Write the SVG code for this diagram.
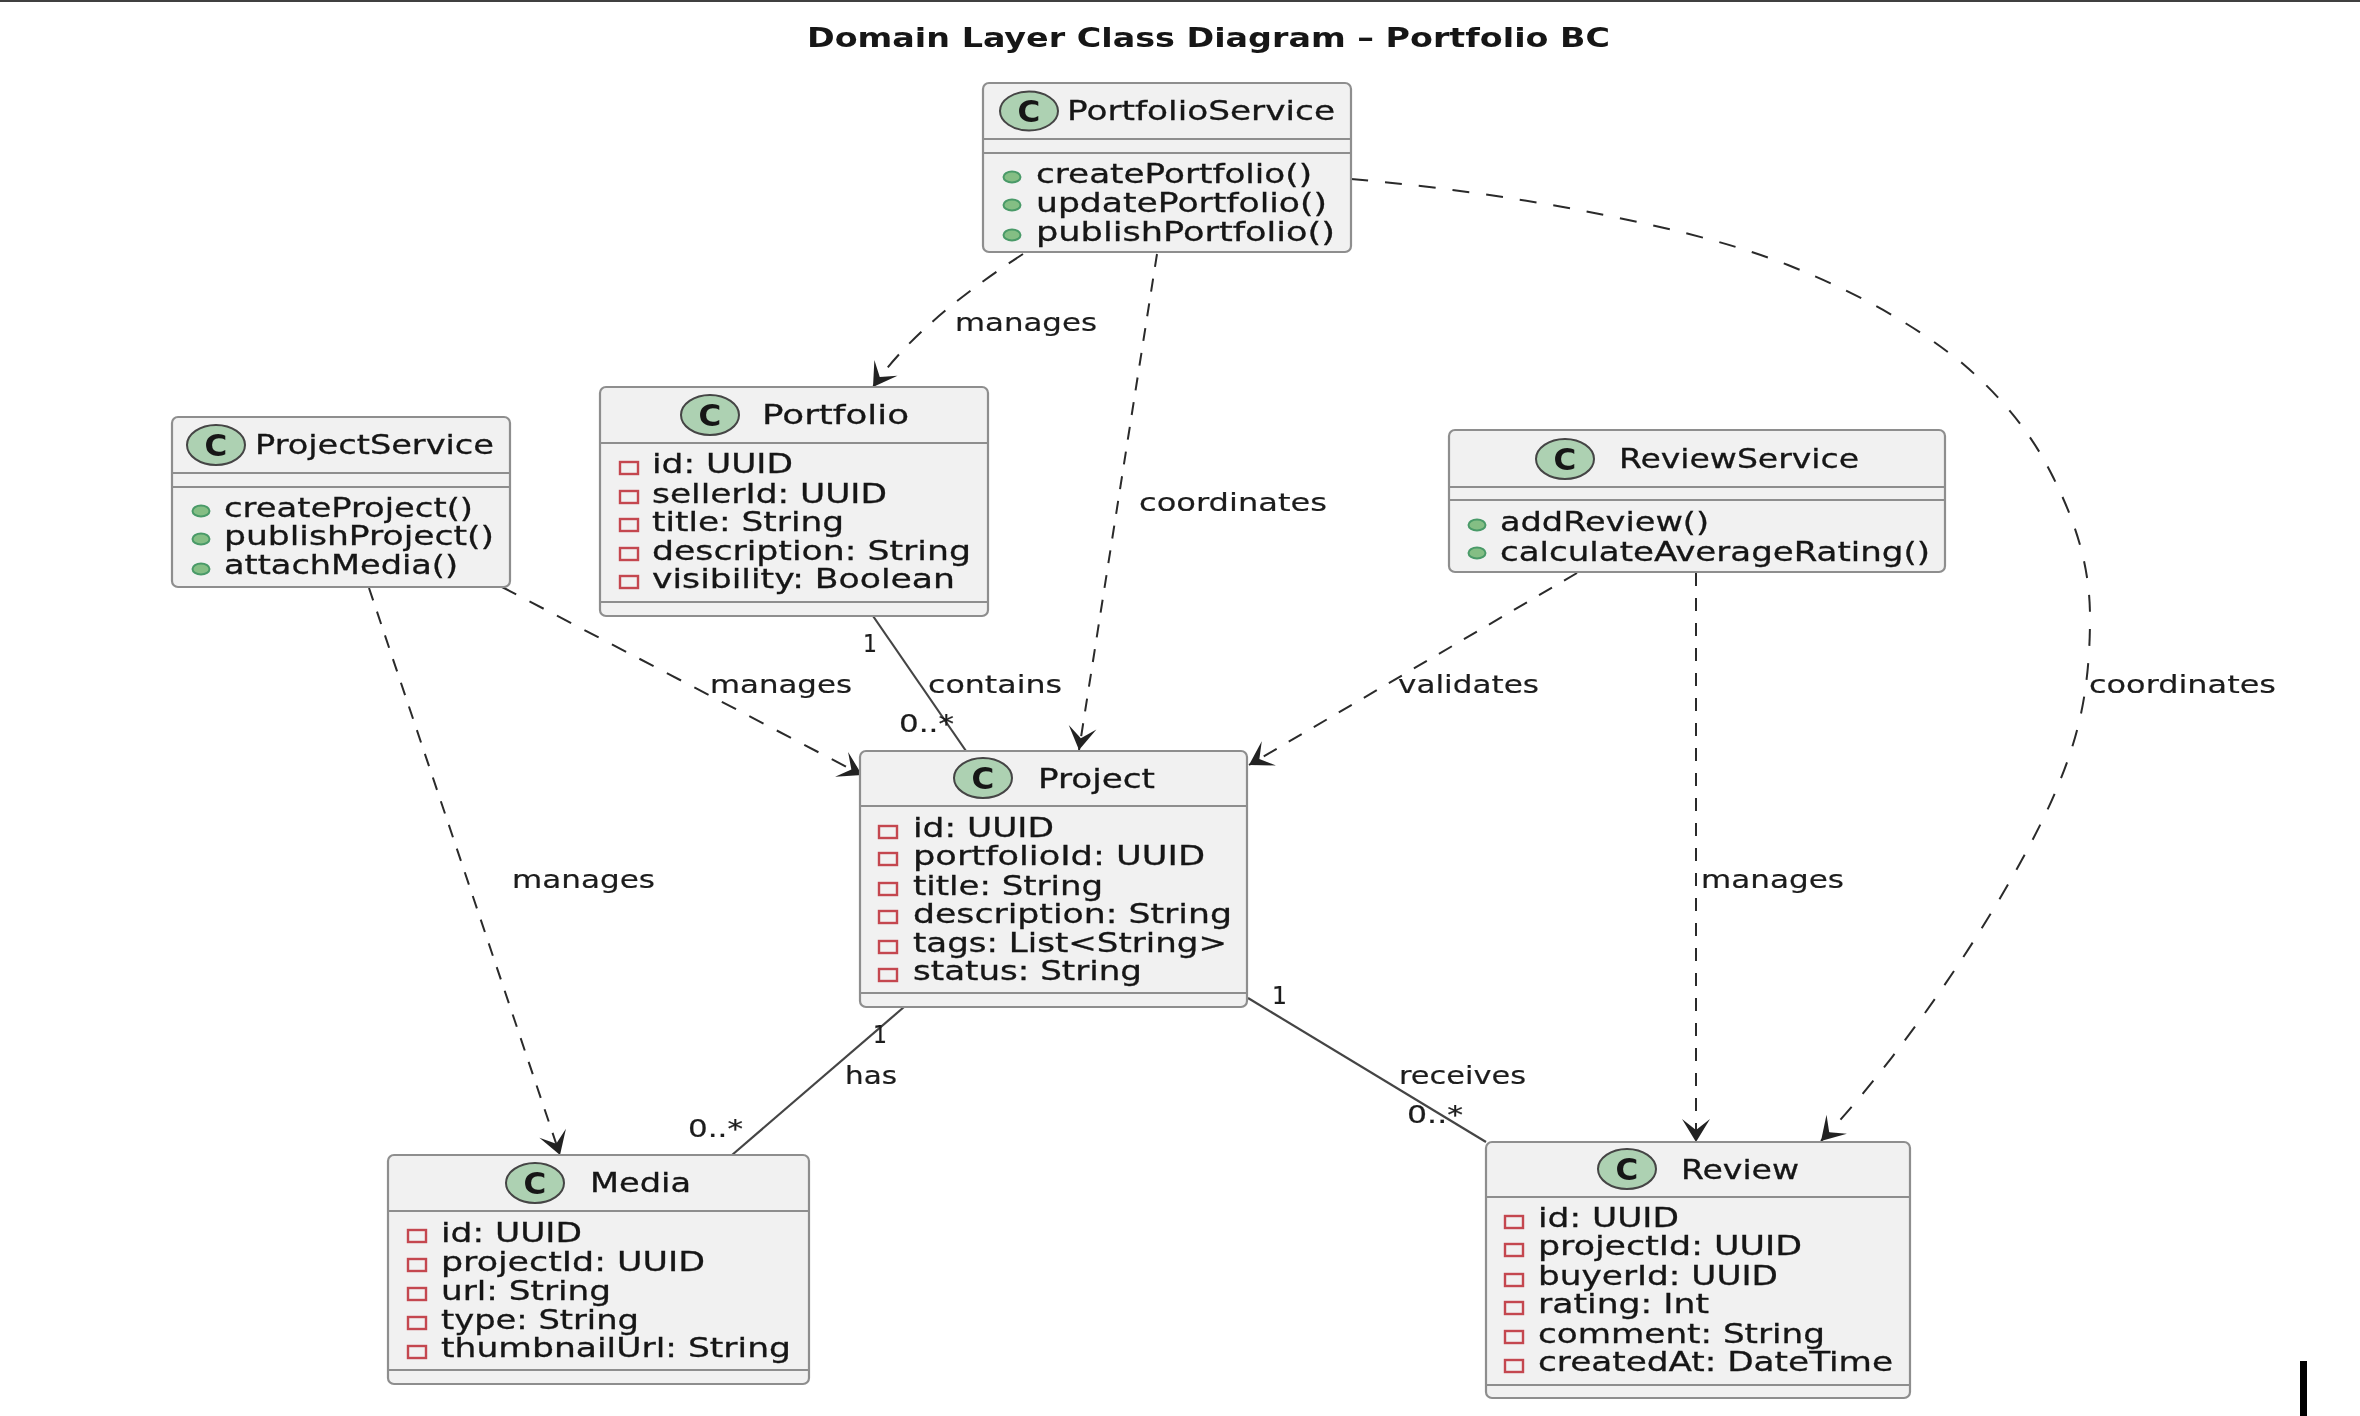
<svg xmlns="http://www.w3.org/2000/svg" width="2360" height="1416" viewBox="0 0 2360 1416">
<style>
text{font-family:"DejaVu Sans","Liberation Sans",sans-serif;fill:#151515}
.title{font-size:27px;font-weight:700}
.h,.m{font-size:27px;stroke:#151515;stroke-width:.3}
.l{font-size:25px;fill:#1c1c1c;stroke:#1c1c1c;stroke-width:.2}
.c{font-size:31px;font-weight:700;text-anchor:middle}
.box{fill:#f1f1f1;stroke:#8e8e8e;stroke-width:2.2}
.sep{stroke:#8e8e8e;stroke-width:2.2;fill:none}
.circ{fill:#add1b2;stroke:#444;stroke-width:2}
.pub{fill:#84be84;stroke:#4a9a68;stroke-width:2}
.pri{fill:none;stroke:#c4464f;stroke-width:2.4}
.dep{fill:none;stroke:#2a2a2a;stroke-width:2;marker-end:url(#open)}
.rel{fill:none;stroke:#444;stroke-width:2.2}
</style>
<defs>
<marker id="open" markerUnits="userSpaceOnUse" markerWidth="30" markerHeight="34" refX="24" refY="15" orient="auto" overflow="visible"><path d="M24 15L1 1L12 15L1 29Z" fill="#222"/></marker>
<filter id="soft" x="0" y="0" width="100%" height="100%" filterUnits="userSpaceOnUse" primitiveUnits="userSpaceOnUse"><feGaussianBlur stdDeviation="0.6"/></filter>
</defs>
<rect width="2360" height="1416" fill="#fff"/>
<rect id="top-edge" width="2360" height="2" fill="#404040"/>
<rect id="corner-bar" x="2300" y="1361" width="7" height="55" fill="#000"/>
<g id="diagram" filter="url(#soft)">
<text id="title" class="title" x="807" y="47" textLength="803" lengthAdjust="spacingAndGlyphs">Domain Layer Class Diagram – Portfolio BC</text>
<g id="connectors">
<path class="dep" stroke-dasharray="17 15" d="M1023 254C960 295 905 340 873 387"/>
<path class="dep" stroke-dasharray="13 12" d="M1157 254L1079 750"/>
<path class="dep" stroke-dasharray="17 17" d="M1351 179C1430 186 1505 196 1579 210C1650 224 1725 240 1788 265C1858 293 1915 325 1962 363C2003 398 2032 435 2051 473C2075 520 2090 565 2090 617C2090 700 2075 745 2055 793C2020 875 1925 1030 1821 1141"/>
<path class="dep" stroke-dasharray="16 15" d="M502 587L862 775"/>
<path class="dep" stroke-dasharray="13 12" d="M369 588L560 1155"/>
<path class="dep" stroke-dasharray="15 14" d="M1577 573L1249 765"/>
<path class="dep" stroke-dasharray="13 12" d="M1696 573V1142"/>
<path class="rel" d="M873 616L966 751"/>
<path class="rel" d="M904 1007L732 1155"/>
<path class="rel" d="M1248 998L1486 1142"/>
<text class="l" x="955" y="331" textLength="142" lengthAdjust="spacingAndGlyphs">manages</text>
<text class="l" x="1139" y="511" textLength="188" lengthAdjust="spacingAndGlyphs">coordinates</text>
<text class="l" x="710" y="693" textLength="142" lengthAdjust="spacingAndGlyphs">manages</text>
<text class="l" x="928" y="693" textLength="134" lengthAdjust="spacingAndGlyphs">contains</text>
<text class="l" x="1398" y="693" textLength="141" lengthAdjust="spacingAndGlyphs">validates</text>
<text class="l" x="2089" y="693" textLength="187" lengthAdjust="spacingAndGlyphs">coordinates</text>
<text class="l" x="512" y="888" textLength="143" lengthAdjust="spacingAndGlyphs">manages</text>
<text class="l" x="1701" y="888" textLength="143" lengthAdjust="spacingAndGlyphs">manages</text>
<text class="l" x="845" y="1084" textLength="52" lengthAdjust="spacingAndGlyphs">has</text>
<text class="l" x="1399" y="1084" textLength="127" lengthAdjust="spacingAndGlyphs">receives</text>
<text class="l" x="863" y="652" textLength="14" lengthAdjust="spacingAndGlyphs">1</text>
<text class="l" x="899" y="732" textLength="55" lengthAdjust="spacingAndGlyphs">0..*</text>
<text class="l" x="873" y="1043" textLength="14" lengthAdjust="spacingAndGlyphs">1</text>
<text class="l" x="688" y="1137" textLength="55" lengthAdjust="spacingAndGlyphs">0..*</text>
<text class="l" x="1272" y="1004" textLength="15" lengthAdjust="spacingAndGlyphs">1</text>
<text class="l" x="1407" y="1123" textLength="56" lengthAdjust="spacingAndGlyphs">0..*</text>
</g>
<g id="PortfolioService">
<rect class="box" x="983" y="83" width="368" height="169" rx="6"/>
<path class="sep" d="M983 139H1351M983 153H1351"/>
<ellipse class="circ" cx="1029" cy="111" rx="29" ry="19.5"/><text class="c" x="1029" y="122">C</text>
<text class="h" x="1067" y="120" textLength="268" lengthAdjust="spacingAndGlyphs">PortfolioService</text>
<ellipse class="pub" cx="1012" cy="177" rx="8.5" ry="5.5"/><text class="m" x="1036" y="183" textLength="276" lengthAdjust="spacingAndGlyphs">createPortfolio()</text>
<ellipse class="pub" cx="1012" cy="205" rx="8.5" ry="5.5"/><text class="m" x="1036" y="212" textLength="291" lengthAdjust="spacingAndGlyphs">updatePortfolio()</text>
<ellipse class="pub" cx="1012" cy="235" rx="8.5" ry="5.5"/><text class="m" x="1036" y="241" textLength="299" lengthAdjust="spacingAndGlyphs">publishPortfolio()</text>
</g>
<g id="ProjectService">
<rect class="box" x="172" y="417" width="338" height="170" rx="6"/>
<path class="sep" d="M172 473H510M172 487H510"/>
<ellipse class="circ" cx="216" cy="445" rx="29" ry="20"/><text class="c" x="216" y="456">C</text>
<text class="h" x="255" y="454" textLength="239" lengthAdjust="spacingAndGlyphs">ProjectService</text>
<ellipse class="pub" cx="201" cy="511" rx="8.5" ry="5.5"/><text class="m" x="224" y="517" textLength="249" lengthAdjust="spacingAndGlyphs">createProject()</text>
<ellipse class="pub" cx="201" cy="539" rx="8.5" ry="5.5"/><text class="m" x="224" y="545" textLength="270" lengthAdjust="spacingAndGlyphs">publishProject()</text>
<ellipse class="pub" cx="201" cy="569" rx="8.5" ry="5.5"/><text class="m" x="224" y="574" textLength="234" lengthAdjust="spacingAndGlyphs">attachMedia()</text>
</g>
<g id="Portfolio">
<rect class="box" x="600" y="387" width="388" height="229" rx="6"/>
<path class="sep" d="M600 443H988M600 602H988"/>
<ellipse class="circ" cx="710" cy="415" rx="29" ry="20"/><text class="c" x="710" y="426">C</text>
<text class="h" x="762" y="424" textLength="147" lengthAdjust="spacingAndGlyphs">Portfolio</text>
<rect class="pri" x="620" y="462" width="18" height="12"/><text class="m" x="652" y="473" textLength="141" lengthAdjust="spacingAndGlyphs">id: UUID</text>
<rect class="pri" x="620" y="491" width="18" height="12"/><text class="m" x="652" y="503" textLength="235" lengthAdjust="spacingAndGlyphs">sellerId: UUID</text>
<rect class="pri" x="620" y="519" width="18" height="12"/><text class="m" x="652" y="531" textLength="192" lengthAdjust="spacingAndGlyphs">title: String</text>
<rect class="pri" x="620" y="548" width="18" height="12"/><text class="m" x="652" y="560" textLength="319" lengthAdjust="spacingAndGlyphs">description: String</text>
<rect class="pri" x="620" y="576" width="18" height="12"/><text class="m" x="652" y="588" textLength="303" lengthAdjust="spacingAndGlyphs">visibility: Boolean</text>
</g>
<g id="ReviewService">
<rect class="box" x="1449" y="430" width="496" height="142" rx="6"/>
<path class="sep" d="M1449 487H1945M1449 500H1945"/>
<ellipse class="circ" cx="1565" cy="459" rx="29" ry="20"/><text class="c" x="1565" y="470">C</text>
<text class="h" x="1619" y="468" textLength="240" lengthAdjust="spacingAndGlyphs">ReviewService</text>
<ellipse class="pub" cx="1477" cy="525" rx="8.5" ry="5.5"/><text class="m" x="1500" y="531" textLength="209" lengthAdjust="spacingAndGlyphs">addReview()</text>
<ellipse class="pub" cx="1477" cy="553" rx="8.5" ry="5.5"/><text class="m" x="1500" y="561" textLength="430" lengthAdjust="spacingAndGlyphs">calculateAverageRating()</text>
</g>
<g id="Project">
<rect class="box" x="860" y="751" width="387" height="256" rx="6"/>
<path class="sep" d="M860 806H1247M860 993H1247"/>
<ellipse class="circ" cx="983" cy="778" rx="29" ry="20"/><text class="c" x="983" y="789">C</text>
<text class="h" x="1038" y="788" textLength="117" lengthAdjust="spacingAndGlyphs">Project</text>
<rect class="pri" x="879" y="826" width="18" height="12"/><text class="m" x="913" y="837" textLength="141" lengthAdjust="spacingAndGlyphs">id: UUID</text>
<rect class="pri" x="879" y="853" width="18" height="12"/><text class="m" x="913" y="865" textLength="292" lengthAdjust="spacingAndGlyphs">portfolioId: UUID</text>
<rect class="pri" x="879" y="883" width="18" height="12"/><text class="m" x="913" y="895" textLength="190" lengthAdjust="spacingAndGlyphs">title: String</text>
<rect class="pri" x="879" y="911" width="18" height="12"/><text class="m" x="913" y="923" textLength="319" lengthAdjust="spacingAndGlyphs">description: String</text>
<rect class="pri" x="879" y="941" width="18" height="12"/><text class="m" x="913" y="952" textLength="314" lengthAdjust="spacingAndGlyphs">tags: List&lt;String&gt;</text>
<rect class="pri" x="879" y="969" width="18" height="12"/><text class="m" x="913" y="980" textLength="229" lengthAdjust="spacingAndGlyphs">status: String</text>
</g>
<g id="Media">
<rect class="box" x="388" y="1155" width="421" height="229" rx="6"/>
<path class="sep" d="M388 1211H809M388 1370H809"/>
<ellipse class="circ" cx="535" cy="1183" rx="29" ry="20"/><text class="c" x="535" y="1194">C</text>
<text class="h" x="590" y="1192" textLength="101" lengthAdjust="spacingAndGlyphs">Media</text>
<rect class="pri" x="408" y="1230" width="18" height="12"/><text class="m" x="441" y="1242" textLength="141" lengthAdjust="spacingAndGlyphs">id: UUID</text>
<rect class="pri" x="408" y="1259" width="18" height="12"/><text class="m" x="441" y="1271" textLength="264" lengthAdjust="spacingAndGlyphs">projectId: UUID</text>
<rect class="pri" x="408" y="1288" width="18" height="12"/><text class="m" x="441" y="1300" textLength="170" lengthAdjust="spacingAndGlyphs">url: String</text>
<rect class="pri" x="408" y="1317" width="18" height="12"/><text class="m" x="441" y="1329" textLength="198" lengthAdjust="spacingAndGlyphs">type: String</text>
<rect class="pri" x="408" y="1346" width="18" height="12"/><text class="m" x="441" y="1357" textLength="350" lengthAdjust="spacingAndGlyphs">thumbnailUrl: String</text>
</g>
<g id="Review">
<rect class="box" x="1486" y="1142" width="424" height="256" rx="6"/>
<path class="sep" d="M1486 1197H1910M1486 1385H1910"/>
<ellipse class="circ" cx="1627" cy="1169" rx="29" ry="20"/><text class="c" x="1627" y="1180">C</text>
<text class="h" x="1681" y="1179" textLength="118" lengthAdjust="spacingAndGlyphs">Review</text>
<rect class="pri" x="1505" y="1216" width="18" height="12"/><text class="m" x="1538" y="1227" textLength="141" lengthAdjust="spacingAndGlyphs">id: UUID</text>
<rect class="pri" x="1505" y="1244" width="18" height="12"/><text class="m" x="1538" y="1255" textLength="264" lengthAdjust="spacingAndGlyphs">projectId: UUID</text>
<rect class="pri" x="1505" y="1274" width="18" height="12"/><text class="m" x="1538" y="1285" textLength="240" lengthAdjust="spacingAndGlyphs">buyerId: UUID</text>
<rect class="pri" x="1505" y="1302" width="18" height="12"/><text class="m" x="1538" y="1313" textLength="171" lengthAdjust="spacingAndGlyphs">rating: Int</text>
<rect class="pri" x="1505" y="1331" width="18" height="12"/><text class="m" x="1538" y="1343" textLength="287" lengthAdjust="spacingAndGlyphs">comment: String</text>
<rect class="pri" x="1505" y="1360" width="18" height="12"/><text class="m" x="1538" y="1371" textLength="355" lengthAdjust="spacingAndGlyphs">createdAt: DateTime</text>
</g>
</g>
</svg>
